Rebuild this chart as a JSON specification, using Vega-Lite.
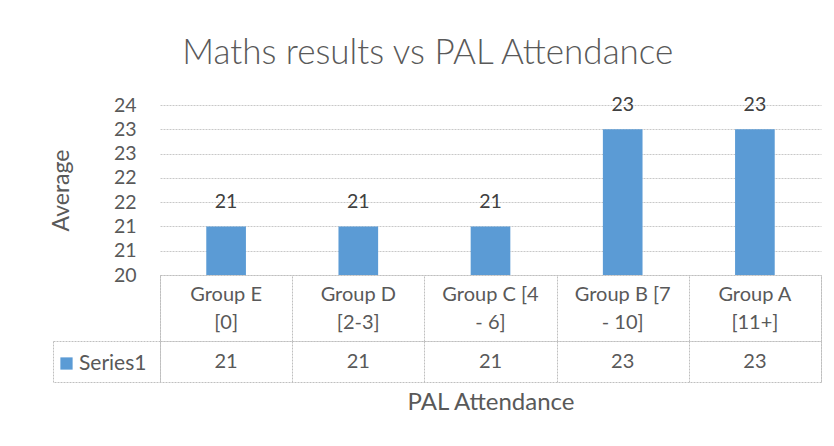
{
  "$schema": "https://vega.github.io/schema/vega-lite/v6.json",
  "padding": {"left": 50, "top": 36, "right": 10, "bottom": 10},
  "background": "white",
  "title": {
    "text": "Maths results vs PAL Attendance",
    "fontSize": 35,
    "fontWeight": 300,
    "color": "#595959",
    "anchor": "middle",
    "dx": -8,
    "offset": 24
  },
  "data": {
    "values": [
      {"group": "Group E [0]", "label": "Group E\n[0]", "average": 21},
      {"group": "Group D [2-3]", "label": "Group D\n[2-3]", "average": 21},
      {"group": "Group C [4 - 6]", "label": "Group C [4\n- 6]", "average": 21},
      {"group": "Group B [7 - 10]", "label": "Group B [7\n- 10]", "average": 23},
      {"group": "Group A [11+]", "label": "Group A\n[11+]", "average": 23}
    ]
  },
  "columns": 2,
  "spacing": 0,
  "bounds": "flush",
  "resolve": {
    "scale": {"x": "independent", "y": "independent", "color": "independent"},
    "legend": {"color": "independent"},
    "axis": {"x": "independent", "y": "independent"}
  },
  "concat": [
    {
      "width": 107,
      "height": 170,
      "mark": {"type": "text"},
      "encoding": {"text": {"value": ""}}
    },
    {
      "width": 661,
      "height": 170,
      "encoding": {
        "x": {
          "field": "group",
          "type": "nominal",
          "sort": null,
          "scale": {"paddingInner": 0.7, "paddingOuter": 0.35},
          "axis": null
        },
        "y": {
          "field": "average",
          "type": "quantitative",
          "scale": {"domain": [20, 23.5], "nice": false, "zero": false, "clamp": true},
          "axis": {
            "title": "Average",
            "values": [20, 20.5, 21, 21.5, 22, 22.5, 23, 23.5],
            "format": ".0f",
            "labelOverlap": false,
            "domain": false,
            "ticks": false,
            "grid": true,
            "gridColor": "#c8c8c8",
            "gridDash": [2, 1],
            "labelFontSize": 19.5,
            "labelColor": "#595959",
            "labelPadding": 24,
            "minExtent": 47,
            "maxExtent": 47,
            "titleFontSize": 23,
            "titleFontWeight": "normal",
            "titleColor": "#595959",
            "titlePadding": 40
          }
        }
      },
      "layer": [
        {
          "mark": {"type": "bar", "color": "#5B9BD5"}
        },
        {
          "mark": {"type": "text", "baseline": "alphabetic", "dy": -18, "fontSize": 19.5, "color": "#404040"},
          "encoding": {
            "text": {"field": "average", "type": "quantitative", "format": ".0f"}
          }
        }
      ]
    },
    {
      "width": 107,
      "height": 66,
      "mark": {"type": "text"},
      "encoding": {"text": {"value": ""}}
    },
    {
      "width": 661,
      "height": 66,
      "view": {"stroke": "#bfbfbf", "strokeDash": [2, 1]},
      "mark": {"type": "text", "lineBreak": "\n", "lineHeight": 28, "baseline": "middle", "dy": -13, "fontSize": 20, "color": "#595959"},
      "encoding": {
        "x": {
          "field": "group",
          "type": "nominal",
          "sort": null,
          "scale": {"paddingInner": 0, "paddingOuter": 0},
          "axis": {
            "title": null,
            "labels": false,
            "ticks": false,
            "domain": false,
            "grid": true,
            "gridColor": "#bfbfbf",
            "gridDash": [2, 1],
            "tickBand": "extent"
          }
        },
        "text": {"field": "label", "type": "nominal"}
      }
    },
    {
      "width": 107,
      "height": 41,
      "view": {"stroke": "#bfbfbf", "strokeDash": [2, 1]},
      "mark": {"type": "text"},
      "encoding": {
        "text": {"value": ""},
        "color": {
          "datum": "Series1",
          "type": "nominal",
          "scale": {"range": ["#5B9BD5"]},
          "legend": {
            "title": " ",
            "titleFontSize": 2,
            "titlePadding": 7,
            "orient": "top-left",
            "offset": 3,
            "padding": 0,
            "symbolType": "square",
            "symbolSize": 150,
            "labelFontSize": 21,
            "labelColor": "#595959",
            "labelOffset": 2
          }
        }
      }
    },
    {
      "width": 661,
      "height": 41,
      "view": {"stroke": "#bfbfbf", "strokeDash": [2, 1]},
      "mark": {"type": "text", "baseline": "middle", "fontSize": 20, "color": "#595959"},
      "encoding": {
        "x": {
          "field": "group",
          "type": "nominal",
          "sort": null,
          "scale": {"paddingInner": 0, "paddingOuter": 0},
          "axis": {
            "title": "PAL Attendance",
            "labels": false,
            "ticks": false,
            "domain": false,
            "grid": true,
            "gridColor": "#bfbfbf",
            "gridDash": [2, 1],
            "tickBand": "extent",
            "titleFontSize": 24,
            "titleFontWeight": "normal",
            "titleColor": "#595959",
            "titlePadding": 8
          }
        },
        "text": {"field": "average", "type": "quantitative", "format": ".0f"}
      }
    }
  ],
  "config": {
    "font": "Lato",
    "view": {"stroke": null}
  }
}
